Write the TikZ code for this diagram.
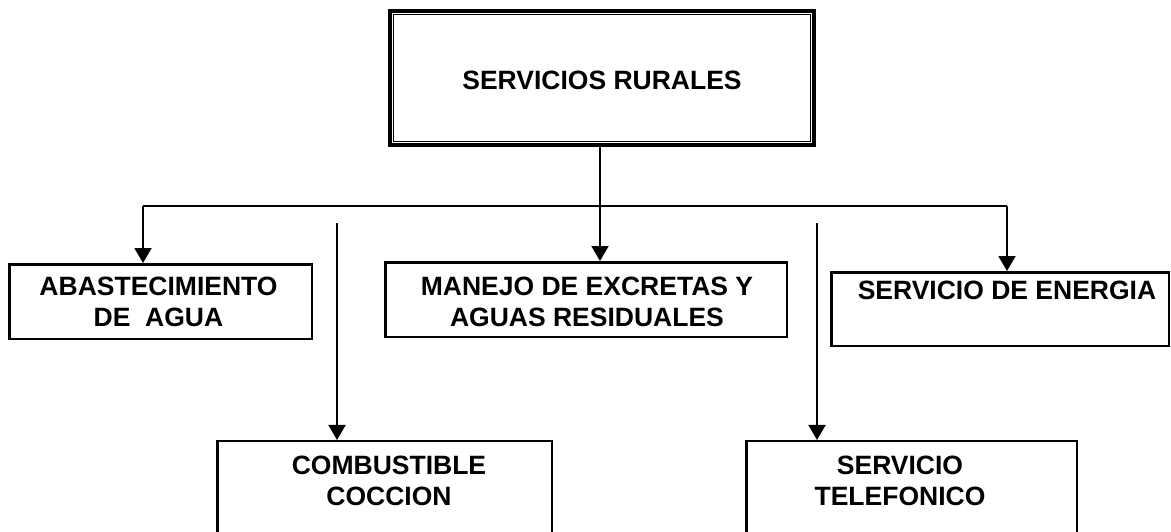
\documentclass[tikz,border=0pt]{standalone}
\usepackage{fontspec}
\setmainfont{Liberation Sans}
\usetikzlibrary{arrows.meta}
\begin{document}
\begin{tikzpicture}[x=1pt,y=-1pt,
  box/.style={draw, line width=2.5pt, inner sep=0pt, minimum width=#1},
  lbl/.style={font=\fontsize{26.5}{31}\selectfont\bfseries, align=center, inner sep=0pt},
  conn/.style={line width=2pt},
  arr/.style={line width=2pt, -{Triangle[length=15pt,width=17pt]}}]
\clip (0,0) rectangle (1171,531);
% boxes
\node[box=424pt, line width=4.5pt, minimum height=134pt] (top) at (602,78) {};
\draw[line width=1.4pt] ([shift={(6,6)}]top.north west) rectangle ([shift={(-6,-6)}]top.south east);
\node[box=302.5pt, minimum height=74.5pt] (abast) at (160.5,301.5) {};
\node[box=401.5pt, minimum height=74.5pt] (manejo) at (586,299.5) {};
\node[box=337.5pt, minimum height=73.5pt] (energia) at (1000,309) {};
\node[box=334.5pt, minimum height=158.75pt] (comb) at (384.5,520.6) {};
\node[box=330.5pt, minimum height=158.75pt] (tel) at (911.5,520.6) {};
% labels
\node[lbl] (ttop) at (602,80) {SERVICIOS RURALES};
\node[lbl] (tabast) at (158.5,302) {ABASTECIMIENTO\\DE\ \ AGUA};
\node[lbl] (tmanejo) at (587,302) {MANEJO DE EXCRETAS Y\\AGUAS RESIDUALES};
\node[lbl] (tenergia) at (1007,290) {SERVICIO DE ENERGIA};
\node[lbl] (tcomb) at (389,481) {COMBUSTIBLE\\COCCION};
\node[lbl] (ttel) at (900,481) {SERVICIO\\TELEFONICO};
% connectors
\coordinate (j) at (600,206);
\coordinate (hl) at (143,206);
\coordinate (hr) at (1007,206);
\coordinate (c1) at (337,223);
\coordinate (c2) at (817,223);
\draw[arr] (j |- top.south) -- (j |- manejo.north);
\draw[conn] (hl) -- (hr);
\draw[arr] (hl) -- (hl |- abast.north);
\draw[arr] (hr) -- (hr |- energia.north);
\draw[arr] (c1) -- (c1 |- comb.north);
\draw[arr] (c2) -- (c2 |- tel.north);
\end{tikzpicture}
\end{document}
